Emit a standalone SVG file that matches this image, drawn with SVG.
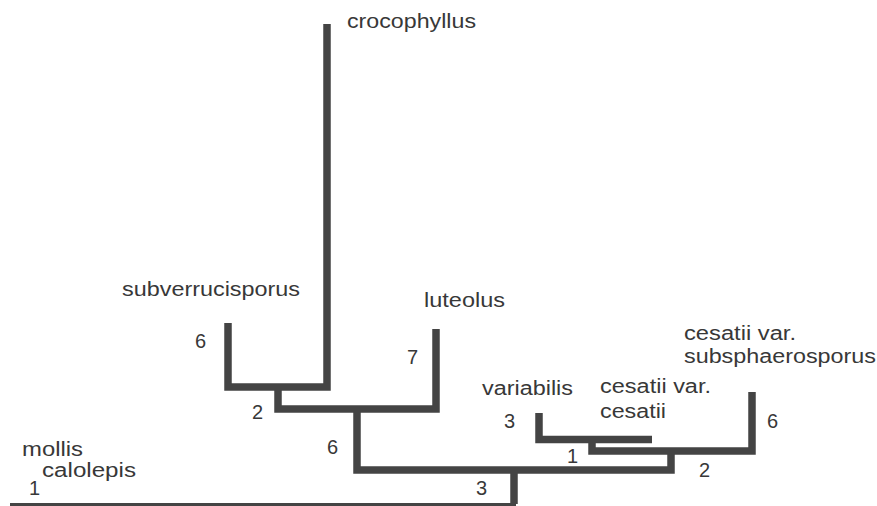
<svg xmlns="http://www.w3.org/2000/svg" width="877" height="506" viewBox="0 0 877 506">
<style>
.br{fill:none;stroke:#444;stroke-width:7.5;stroke-linejoin:miter;stroke-linecap:butt}
.base{fill:none;stroke:#444;stroke-width:2.8}
text{font-family:"Liberation Sans",Arial,Helvetica,sans-serif;font-size:20px;fill:#383838}
</style>
<rect width="877" height="506" fill="#fff"/>
<g id="connectors">
<polyline class="br" points="228,323 228,387 327,387 327,24"/>
<polyline class="br" points="278,387 278,409 436,409 436,329"/>
<polyline class="br" points="357,409 357,470 671,470 671,451"/>
<polyline class="br" points="514,470 514,504"/>
<polyline class="br" points="539,413 539,439.5 652,439.5"/>
<polyline class="br" points="592,439.5 592,451 752,451 752,392"/>
<line class="base" x1="10" y1="504.5" x2="516" y2="504.5"/>
</g>
<g id="branch-numbers">
<text x="195" y="348">6</text>
<text x="252" y="419">2</text>
<text x="327" y="454">6</text>
<text x="407" y="364">7</text>
<text x="476" y="495">3</text>
<text x="504" y="428">3</text>
<text x="567" y="463">1</text>
<text x="699" y="477">2</text>
<text x="767" y="428">6</text>
<text x="29" y="495">1</text>
</g>
<g id="crocophyllus"><text x="347" y="28" textLength="129" lengthAdjust="spacingAndGlyphs">crocophyllus</text></g>
<g id="subverrucisporus"><text x="122" y="296" textLength="178" lengthAdjust="spacingAndGlyphs">subverrucisporus</text></g>
<g id="luteolus"><text x="424" y="307" textLength="81" lengthAdjust="spacingAndGlyphs">luteolus</text></g>
<g id="variabilis"><text x="482" y="395" textLength="91" lengthAdjust="spacingAndGlyphs">variabilis</text></g>
<g id="cesatii-cesatii"><text x="600" y="393" textLength="111" lengthAdjust="spacingAndGlyphs">cesatii var.</text><text x="600" y="418" textLength="66" lengthAdjust="spacingAndGlyphs">cesatii</text></g>
<g id="cesatii-subsphaerosporus"><text x="684" y="340" textLength="112" lengthAdjust="spacingAndGlyphs">cesatii var.</text><text x="684" y="363" textLength="192" lengthAdjust="spacingAndGlyphs">subsphaerosporus</text></g>
<g id="mollis"><text x="22" y="456" textLength="61" lengthAdjust="spacingAndGlyphs">mollis</text></g>
<g id="calolepis"><text x="42" y="477" textLength="94" lengthAdjust="spacingAndGlyphs">calolepis</text></g>
</svg>
